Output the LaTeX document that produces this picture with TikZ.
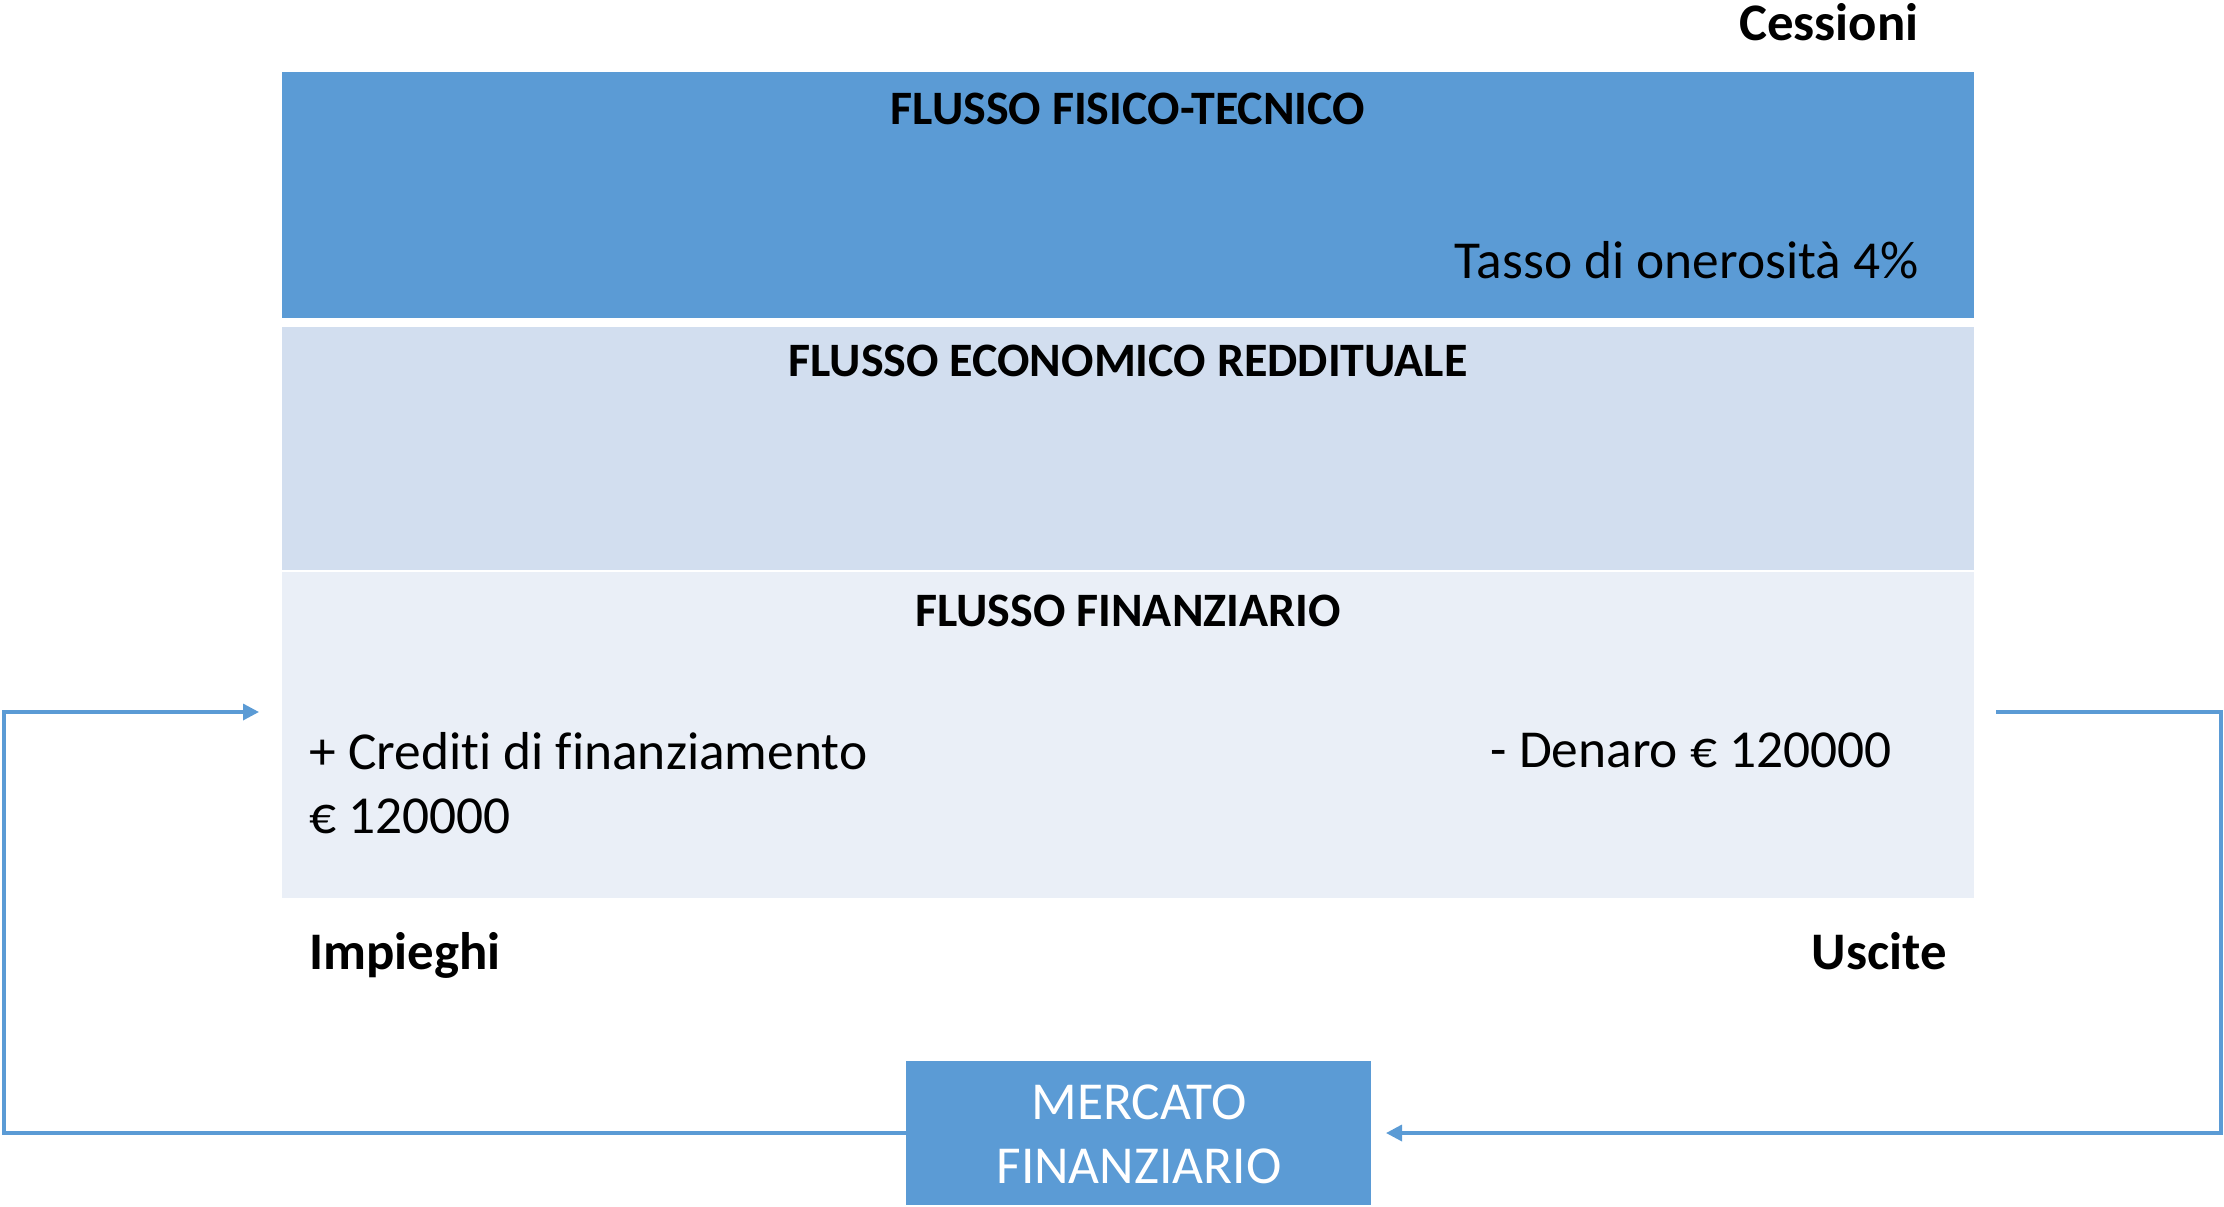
\documentclass[tikz,border=0pt]{standalone}
\usepackage{fontspec}
\setmainfont{Carlito}[Ligatures=NoCommon]
\usetikzlibrary{arrows.meta}
\definecolor{accblue}{HTML}{5B9BD5}
\definecolor{midblue}{HTML}{D2DEEF}
\definecolor{paleblue}{HTML}{EAEFF7}
\begin{document}
\begin{tikzpicture}[x=0.5pt,y=-0.5pt,
  band/.style={draw=none,inner sep=0pt,outer sep=0pt,anchor=north west},
  body/.style={inner sep=0pt,font=\fontsize{26.7pt}{32pt}\selectfont},
  bodybold/.style={inner sep=0pt,font=\fontsize{26.4pt}{32pt}\selectfont\bfseries},
  title/.style={inner sep=0pt,anchor=base,font=\fontsize{24pt}{29pt}\selectfont\bfseries},
  flow/.style={draw=accblue,line width=1.7pt},
  tip/.style={-{Triangle[length=8pt,width=8pt]}}]
\useasboundingbox (0,0) rectangle (2224,1206);
% bands
\node[band,fill=accblue,minimum width=846pt,minimum height=123pt] (fisico) at (282,72) {};
\node[band,fill=midblue,minimum width=846pt,minimum height=121.5pt] (econ) at (282,327) {};
\node[band,fill=paleblue,minimum width=846pt,minimum height=163pt] (fin) at (282,572) {};
\node[band,fill=accblue,minimum width=232.5pt,minimum height=72pt] (merc) at (906,1061) {};
% titles
\node[title] (t1) at (1128,124) {FLUSSO FISICO-TECNICO};
\node[title] (t2) at (1128,376) {FLUSSO ECONOMICO REDDITUALE};
\node[title] (t3) at (1128,626) {FLUSSO FINANZIARIO};
% texts
\node[bodybold,anchor=base east] (cess) at (1919,40) {Cessioni};
\node[body,anchor=base east] (tasso) at (1919,278) {Tasso di onerosità 4\%};
\node[body,anchor=base west] (cred1) at (309,769) {+ Crediti di finanziamento};
\node[body,anchor=base west] (cred2) at (309,833) {€ 120000};
\node[body,anchor=base east] (den) at (1892,767) {- Denaro € 120000};
\node[bodybold,anchor=base west] (imp) at (309,969) {Impieghi};
\node[bodybold,anchor=base east] (usc) at (1947,969) {Uscite};
\node[body,anchor=base,text=white] (m1) at (1139,1119) {MERCATO};
\node[body,anchor=base,text=white] (m2) at (1139,1183) {FINANZIARIO};
% connectors
\coordinate (inL) at (259,712);
\coordinate (outR) at (1996,712);
\draw[flow,tip] (merc.west) -| (4,712) -- (inL);
\draw[flow,tip] (outR) -| (2221,1133) -- ([xshift=7.5pt]merc.east);
\end{tikzpicture}
\end{document}
